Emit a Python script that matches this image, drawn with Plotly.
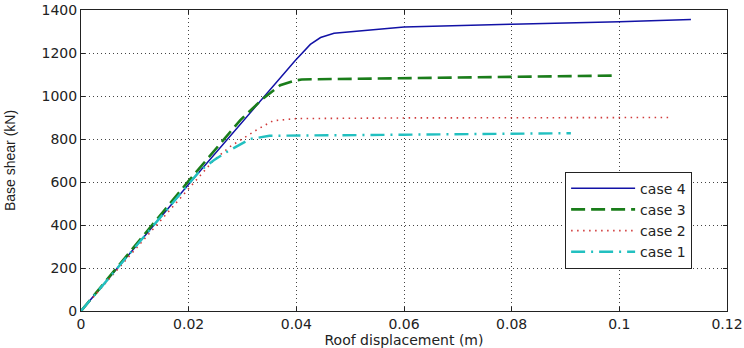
import plotly.graph_objects as go

# Data
case4_x = [0, 0.0200, 0.0398, 0.0426, 0.0445, 0.0470, 0.060, 0.0669, 0.080, 0.100, 0.1133]
case4_y = [0, 590, 1165, 1240, 1272, 1292, 1321, 1326, 1334, 1345, 1356]

case3_x = [0, 0.0200, 0.0296, 0.0339, 0.0370, 0.0398, 0.0410, 0.0670, 0.0996]
case3_y = [0, 605, 888, 990, 1050, 1072, 1077, 1085, 1095]

case2_x = [0, 0.0122, 0.0200, 0.0246, 0.0277, 0.0330, 0.0357, 0.0400, 0.0600, 0.1092]
case2_y = [0, 345, 565, 700, 765, 848, 885, 895, 898, 900]

case1_x = [0, 0.0220, 0.0246, 0.0271, 0.0314, 0.0350, 0.0600, 0.0910]
case1_y = [0, 650, 700, 740, 800, 815, 820, 827]

x_ticks = [0, 0.02, 0.04, 0.06, 0.08, 0.1, 0.12]
x_tick_text = ["0", "0.02", "0.04", "0.06", "0.08", "0.1", "0.12"]
y_ticks = [0, 200, 400, 600, 800, 1000, 1200, 1400]

WIDE = "DejaVu Sans, Verdana, sans-serif"
NARROW = "Liberation Sans Narrow, Arial Narrow, Liberation Sans, sans-serif"

fig = go.Figure()
fig.add_trace(go.Scatter(x=case4_x, y=case4_y, mode="lines", name="case 4",
                         line=dict(color="#1212a6", width=1.5, dash="solid")))
fig.add_trace(go.Scatter(x=case3_x, y=case3_y, mode="lines", name="case 3",
                         line=dict(color="#1a7d1a", width=2.6, dash="14px,6px")))
fig.add_trace(go.Scatter(x=case2_x, y=case2_y, mode="lines", name="case 2",
                         line=dict(color="#d03a3a", width=1.6, dash="1.5px,4.5px")))
fig.add_trace(go.Scatter(x=case1_x, y=case1_y, mode="lines", name="case 1",
                         line=dict(color="#22c0c0", width=2.4, dash="14px,6px,2px,6px")))

axis_common = dict(
    showline=True, linecolor="#222", linewidth=1, mirror="ticks",
    ticks="inside", ticklen=4, tickcolor="#222",
    showgrid=True, gridcolor="#444", griddash="1px,3px", gridwidth=1,
    zeroline=False, automargin=False,
    tickfont=dict(family=WIDE, size=14, color="#222"),
)

fig.update_layout(
    width=744, height=348,
    margin=dict(l=81, r=17, t=10, b=37),
    paper_bgcolor="white", plot_bgcolor="white",
    font=dict(family=WIDE, size=13, color="#222"),
    xaxis=dict(range=[0, 0.12], tickvals=x_ticks, ticktext=x_tick_text,
               title=dict(text="Roof displacement (m)", standoff=0,
                          font=dict(family=WIDE, size=14)),
               **axis_common),
    yaxis=dict(range=[0, 1400], tickvals=y_ticks,
               title=dict(text="Base shear (kN)", standoff=22,
                          font=dict(family=NARROW, size=14)),
               **axis_common),
    legend=dict(x=0.946, y=0.302, xanchor="right", yanchor="middle",
                bgcolor="white", bordercolor="#222", borderwidth=1,
                font=dict(family=WIDE, size=14), tracegroupgap=0,
                itemwidth=64),
    showlegend=True,
)

fig.write_html("out.html")
